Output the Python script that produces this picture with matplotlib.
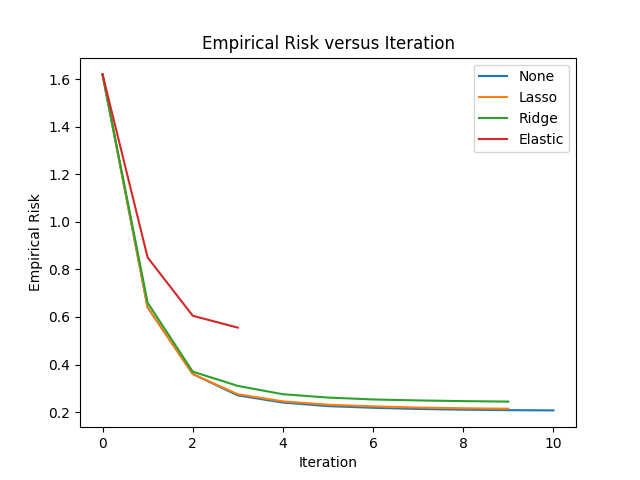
import matplotlib
matplotlib.use("Agg")
from matplotlib import pyplot as plt

risk_none = [1.62, 0.64, 0.36, 0.27, 0.24, 0.225, 0.218, 0.213, 0.210, 0.208, 0.207]
risk_lasso = [1.62, 0.64, 0.36, 0.275, 0.245, 0.231, 0.224, 0.219, 0.216, 0.214]
risk_ridge = [1.62, 0.66, 0.37, 0.31, 0.275, 0.261, 0.253, 0.249, 0.246, 0.244]
risk_elastic = [1.62, 0.85, 0.605, 0.555]
labels = ["None", "Lasso", "Ridge", "Elastic"]

fig, ax = plt.subplots(figsize=(6.4, 4.8), dpi=100)
for series, name in zip([risk_none, risk_lasso, risk_ridge, risk_elastic], labels):
    ax.plot(range(len(series)), series, label=name)

ax.set_title("Empirical Risk versus Iteration")
ax.set_xlabel("Iteration")
ax.set_ylabel("Empirical Risk")
ax.legend()
fig.savefig("out.png")
